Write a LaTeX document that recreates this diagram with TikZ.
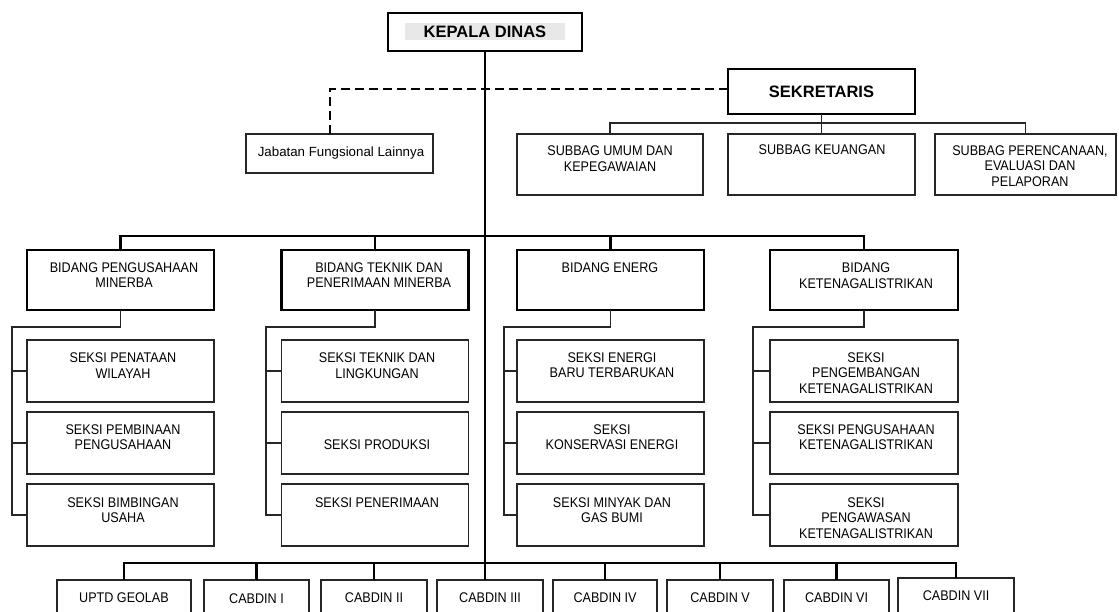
\documentclass[tikz,border=0pt]{standalone}
\usepackage{fontspec}
\setmainfont{Liberation Sans}
\newfontfamily\nar{Liberation Sans}[FakeStretch=0.9]
\begin{document}
\begin{tikzpicture}[x=1pt,y=-1pt,
  bxthick/.style={draw=black, line width=2.8pt, inner sep=0pt, outer sep=0pt},
  bxthin/.style={draw=black!85, line width=1.6pt, inner sep=0pt, outer sep=0pt},
  bxcab/.style={draw=black!85, line width=1.9pt, inner sep=0pt, outer sep=0pt, minimum height=50pt},
  lbl/.style={font=\nar\fontsize{14}{15.5}\selectfont, align=center, inner sep=0pt},
  hdr/.style={font=\bfseries\fontsize{16.5}{18}\selectfont, inner sep=0pt},
  trunk/.style={line width=2.8pt},
  bus/.style={line width=2.4pt},
  thn/.style={line width=1.5pt, draw=black!85},
  dsh/.style={line width=2.8pt, dash pattern=on 9pt off 5pt},
  sek/.style={bxthin, minimum width=187pt, minimum height=62pt},
  bid/.style={bxthick, minimum width=187pt, minimum height=60pt}
]
\useasboundingbox (0,0) rectangle (1119,612);
\clip (0,0) rectangle (1119,612);
\fill[white] (0,0) rectangle (1119,612);

% top
\node[bxthick, minimum width=194pt, minimum height=38pt] (kd) at (485,32) {};
\node[fill=gray!18, minimum width=160pt, minimum height=17pt, inner sep=0pt] (kdg) at (485,31.5) {};
\node[hdr] (kdt) at (485,32) {KEPALA DINAS};

\node[bxthick, minimum width=187pt, minimum height=45pt] (sek) at (821.5,91.5) {};
\node[hdr] (sekt) at (821.5,91.5) {SEKRETARIS};

\node[bxthin, minimum width=187pt, minimum height=39pt] (jab) at (339.5,153.5) {};
\node[font=\fontsize{13.3}{15}\selectfont, inner sep=0pt] (jabt) at (341,153.5) {Jabatan Fungsional Lainnya};

\node[bxthin, minimum width=186pt, minimum height=61pt] (umum) at (610,164.5) {};
\node[bxthin, minimum width=187pt, minimum height=61pt] (keu) at (821.5,164.5) {};
\node[bxthin, minimum width=181pt, minimum height=61pt] (per) at (1025.5,164.5) {};
\node[lbl] (umumt) at (610,158.5) {SUBBAG UMUM DAN\\KEPEGAWAIAN};
\node[lbl] (keut) at (822,150) {SUBBAG KEUANGAN};
\node[lbl] (pert) at (1030,166) {SUBBAG PERENCANAAN,\\EVALUASI DAN\\PELAPORAN};

% bidang
\node[bid] (bp) at (120.5,280) {};
\node[bid] (bt) at (375,280) {};
\node[bid] (be) at (610.5,280) {};
\node[bid, minimum width=188pt] (bk) at (864,280) {};
\node[lbl] (bpt) at (124,275) {BIDANG PENGUSAHAAN\\MINERBA};
\node[lbl] (btt) at (379,275) {BIDANG TEKNIK DAN\\PENERIMAAN MINERBA};
\node[lbl] (bet) at (610,268) {BIDANG ENERG};
\node[lbl] (bkt) at (866,275.5) {BIDANG\\KETENAGALISTRIKAN};

% seksi column 1
\node[sek] (s11) at (120.5,371) {};
\node[sek] (s12) at (120.5,443) {};
\node[sek] (s13) at (120.5,515) {};
\node[lbl] (s11t) at (123,365.5) {SEKSI PENATAAN\\WILAYAH};
\node[lbl] (s12t) at (123,437) {SEKSI PEMBINAAN\\PENGUSAHAAN};
\node[lbl] (s13t) at (123,510) {SEKSI BIMBINGAN\\USAHA};
% seksi column 2
\node[sek] (s21) at (375,371) {};
\node[sek] (s22) at (375,443) {};
\node[sek] (s23) at (375,515) {};
\node[lbl] (s21t) at (377,365.5) {SEKSI TEKNIK DAN\\LINGKUNGAN};
\node[lbl] (s22t) at (377,445) {SEKSI PRODUKSI};
\node[lbl] (s23t) at (377,503) {SEKSI PENERIMAAN};
% seksi column 3
\node[sek] (s31) at (610.5,371) {};
\node[sek] (s32) at (610.5,443) {};
\node[sek] (s33) at (610.5,515) {};
\node[lbl] (s31t) at (612,365) {SEKSI ENERGI\\BARU TERBARUKAN};
\node[lbl] (s32t) at (612,437) {SEKSI\\KONSERVASI ENERGI};
\node[lbl] (s33t) at (612,510) {SEKSI MINYAK DAN\\GAS BUMI};
% seksi column 4
\node[sek, minimum width=188pt] (s41) at (864,371) {};
\node[sek, minimum width=188pt] (s42) at (864,443) {};
\node[sek, minimum width=188pt] (s43) at (864,515) {};
\node[lbl] (s41t) at (866,373) {SEKSI\\PENGEMBANGAN\\KETENAGALISTRIKAN};
\node[lbl] (s42t) at (866,437) {SEKSI PENGUSAHAAN\\KETENAGALISTRIKAN};
\node[lbl] (s43t) at (866,518) {SEKSI\\PENGAWASAN\\KETENAGALISTRIKAN};

% cabdin row
\node[bxcab, minimum width=134pt] (up) at (124,605) {};
\node[bxcab, minimum width=105pt] (c1) at (256.5,605) {};
\node[bxcab, minimum width=106pt] (c2) at (374,605) {};
\node[bxcab, minimum width=106pt] (c3) at (490,605) {};
\node[bxcab, minimum width=104pt] (c4) at (605,605) {};
\node[bxcab, minimum width=106pt] (c5) at (720,605) {};
\node[bxcab, minimum width=105pt] (c6) at (836.5,605) {};
\node[bxcab, minimum width=116pt, minimum height=54pt] (c7) at (956,605) {};
\node[lbl] (upt) at (124,598) {UPTD GEOLAB};
\node[lbl] (c1t) at (256.5,599) {CABDIN I};
\node[lbl] (c2t) at (374,598) {CABDIN II};
\node[lbl] (c3t) at (490,598) {CABDIN III};
\node[lbl] (c4t) at (605,598) {CABDIN IV};
\node[lbl] (c5t) at (720,598) {CABDIN V};
\node[lbl] (c6t) at (836.5,598) {CABDIN VI};
\node[lbl] (c7t) at (956,596) {CABDIN VII};

% connectors
\draw[trunk] (kd.south) -- (kd.south |- c3.north);
\coordinate (dc) at (330,89);
\draw[dsh] (sek.west |- dc) -- (dc) -- (dc |- jab.north);

\coordinate (sb) at (0,123);
\draw[thn] (sek.south) -- (sek.south |- sb);
\draw[thn] (umum.north) -- (umum.north |- sb) -- (per.north |- sb) -- (per.north);
\draw[thn] (keu.north |- sb) -- (keu.north);

\coordinate (bb) at (0,236);
\draw[bus] (bp.north) -- (bp.north |- bb) -- (bk.north |- bb) -- (bk.north);
\draw[bus] (bt.north) -- (bt.north |- bb);
\draw[bus] (be.north) -- (be.north |- bb);

\coordinate (v1) at (12,327);
\coordinate (v2) at (266,327);
\coordinate (v3) at (504,327);
\coordinate (v4) at (753,327);
\draw[thn] (bp.south) -- (bp.south |- v1) -- (v1) -- (v1 |- s13.west) -- (s13.west);
\draw[thn] (v1 |- s11.west) -- (s11.west);
\draw[thn] (v1 |- s12.west) -- (s12.west);
\draw[thn] (bt.south) -- (bt.south |- v2) -- (v2) -- (v2 |- s23.west) -- (s23.west);
\draw[thn] (v2 |- s21.west) -- (s21.west);
\draw[thn] (v2 |- s22.west) -- (s22.west);
\draw[thn] (be.south) -- (be.south |- v3) -- (v3) -- (v3 |- s33.west) -- (s33.west);
\draw[thn] (v3 |- s31.west) -- (s31.west);
\draw[thn] (v3 |- s32.west) -- (s32.west);
\draw[thn] (bk.south) -- (bk.south |- v4) -- (v4) -- (v4 |- s43.west) -- (s43.west);
\draw[thn] (v4 |- s41.west) -- (s41.west);
\draw[thn] (v4 |- s42.west) -- (s42.west);

\coordinate (cb) at (0,563);
\draw[bus] (up.north) -- (up.north |- cb) -- (c7.north |- cb) -- (c7.north);
\draw[bus] (c1.north |- cb) -- (c1.north);
\draw[bus] (c2.north |- cb) -- (c2.north);
\draw[bus] (c4.north |- cb) -- (c4.north);
\draw[bus] (c5.north |- cb) -- (c5.north);
\draw[bus] (c6.north |- cb) -- (c6.north);
\end{tikzpicture}
\end{document}
